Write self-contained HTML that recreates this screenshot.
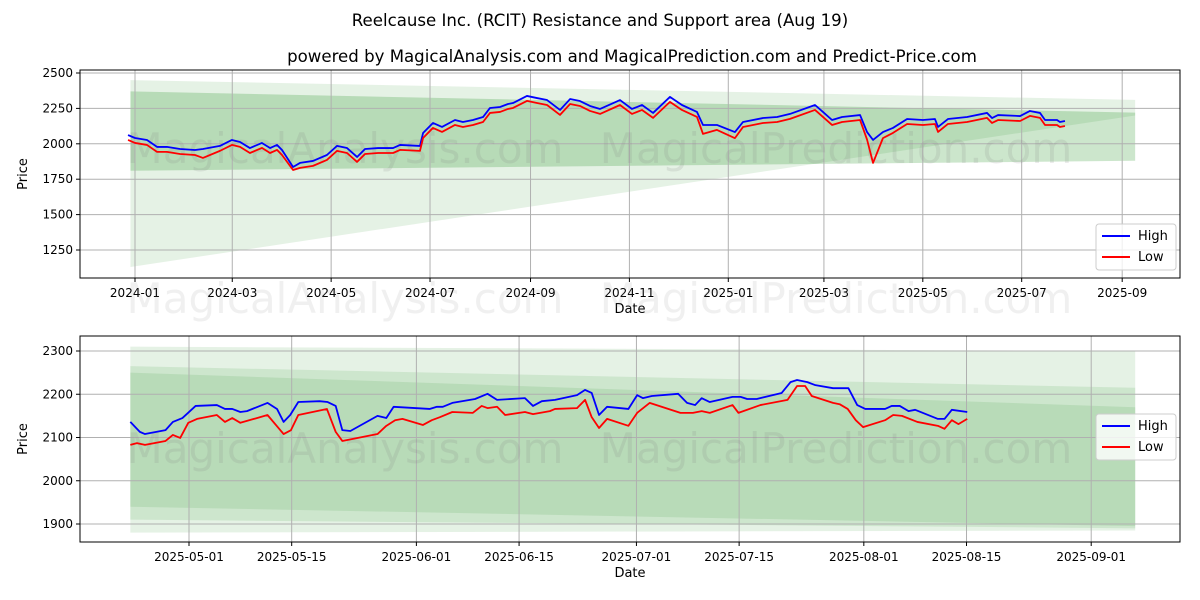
<!DOCTYPE html>
<html><head><meta charset="utf-8">
<style>
body{margin:0;background:#fff;font-family:"Liberation Sans","DejaVu Sans",sans-serif;}
svg{display:block}
text{font-family:"DejaVu Sans","Liberation Sans",sans-serif;}
</style></head>
<body>
<svg id="chart" width="1200" height="600" xmlns="http://www.w3.org/2000/svg">
<rect width="1200" height="600" fill="#fff"/>
<text x="600" y="26" font-size="16.6" text-anchor="middle">Reelcause Inc. (RCIT) Resistance and Support area (Aug 19)</text>
<text x="632" y="62" font-size="16.6" text-anchor="middle">powered by MagicalAnalysis.com and MagicalPrediction.com and Predict-Price.com</text>
<g id="top"></g>
<g id="bot"></g>
<g fill="#808080" fill-opacity="0.12" font-size="42" text-anchor="middle">
<text x="345" y="313">MagicalAnalysis.com</text>
<text x="836" y="313">MagicalPrediction.com</text>
</g>
</svg>
<script>
// ---- Top chart data (days since 2024-01-01) ----
const topDays=[-4.3,0,7.4,13.6,19.7,27.8,37,41.9,52.4,59.8,64.8,70.9,78.3,83.3,87.6,90.7,97.5,101.8,109.8,118.4,124.6,130.8,137,141.9,149.9,159.2,163.5,175.8,177.7,183.8,189.4,197.4,202.3,208.5,214.7,219,225.2,230.1,233.2,241.8,248,254.2,262.2,268.4,274.5,280.7,286.9,299.2,306.6,312.8,319.6,330,337.4,346.7,350.4,359,370.1,375.1,387.4,396.1,404.1,419.5,424.4,430,436.2,447.3,451.6,455.3,461.4,467.6,476.3,486.1,493.5,495.4,501.5,513.3,525.6,528.7,532.4,546,552.1,558.3,561.4,568.8,570.6,573.7];
const topHigh=[2062,2041,2027,1978,1978,1963,1956,1963,1985,2027,2013,1970,2006,1970,1992,1956,1836,1865,1879,1921,1985,1970,1907,1963,1970,1970,1992,1985,2076,2147,2119,2168,2154,2168,2189,2253,2260,2281,2288,2338,2323,2309,2239,2316,2302,2267,2246,2309,2246,2274,2218,2331,2274,2225,2133,2133,2083,2154,2182,2189,2211,2274,2225,2168,2189,2203,2083,2027,2083,2112,2175,2168,2175,2119,2175,2189,2218,2182,2203,2196,2232,2218,2168,2168,2154,2161];
const topLow=[2027,2006,1992,1943,1943,1928,1921,1900,1950,1992,1978,1935,1971,1935,1957,1921,1815,1830,1844,1886,1950,1935,1872,1928,1935,1935,1957,1950,2041,2112,2084,2133,2119,2133,2154,2218,2225,2246,2253,2303,2288,2274,2204,2281,2267,2232,2211,2274,2211,2239,2183,2296,2239,2190,2070,2098,2040,2119,2147,2154,2176,2239,2190,2133,2154,2168,2030,1865,2040,2077,2140,2133,2140,2084,2140,2154,2183,2147,2168,2161,2197,2183,2133,2133,2119,2126];
const topYTicks=[1250,1500,1750,2000,2250,2500];
const topXTickLabels=["2024-01","2024-03","2024-05","2024-07","2024-09","2024-11","2025-01","2025-03","2025-05","2025-07","2025-09"];
const topXTickDays=[0,60,121,182,244,305,366,425,486,547,609];
const topBandStart=-2.8, topBandEnd=617;
const topBandA=[2450,2310,1130,2200];
const topBandB=[2370,2220,1810,1880];

// ---- Bottom chart data (days since 2025-05-01) ----
const botHighDays=[-8.0,-6.7,-6.0,-3.2,-2.2,-0.9,0.9,3.8,4.9,5.9,7.0,7.9,10.7,12.0,12.9,13.8,14.9,17.8,18.9,20.0,20.9,22.0,25.7,26.9,27.9,32.8,33.8,34.6,35.9,39.0,40.7,42.0,45.8,46.9,48.1,49.9,52.9,54.0,54.9,55.9,57.0,59.9,61.1,61.9,63.1,66.7,67.9,69.0,69.9,71.0,74.1,75.2,76.1,77.4,80.8,82.0,82.9,84.3,85.4,87.8,89.9,91.1,92.2,94.9,95.8,96.9,98.1,99.0,102.1,103.0,104.0,106.1];
const botHigh=[2136,2113,2108,2117,2136,2145,2173,2175,2166,2166,2159,2161,2180,2166,2136,2152,2182,2184,2182,2173,2117,2115,2150,2145,2171,2166,2171,2171,2180,2189,2201,2187,2191,2173,2184,2187,2198,2210,2203,2152,2171,2166,2198,2191,2196,2201,2180,2175,2191,2182,2194,2194,2189,2189,2203,2228,2233,2228,2221,2214,2214,2175,2166,2166,2173,2173,2161,2164,2143,2143,2164,2159];
const botLowDays=[-8.0,-7.1,-6.0,-3.2,-2.2,-1.2,-0.1,1.1,3.8,4.9,5.9,7.0,10.7,12.9,13.9,14.9,18.8,20.0,20.9,25.7,26.9,28.1,29.1,31.9,33.1,34.2,35.9,38.7,39.9,40.7,42.0,43.1,45.8,46.9,49.2,49.9,52.9,54.0,54.9,55.9,57.0,59.9,61.1,62.8,67.0,68.7,69.9,71.0,74.1,74.9,77.9,81.6,82.9,84.0,84.9,87.8,88.7,89.8,90.9,91.9,94.9,96.0,97.2,99.3,102.1,103.0,104.0,104.9,106.1];
const botLow=[2083,2087,2083,2092,2106,2099,2134,2143,2152,2136,2145,2134,2152,2108,2117,2152,2166,2113,2092,2108,2127,2140,2143,2129,2140,2147,2159,2157,2173,2168,2171,2152,2159,2154,2161,2166,2168,2187,2147,2122,2143,2127,2157,2180,2157,2157,2161,2157,2175,2157,2175,2187,2219,2219,2196,2180,2177,2166,2140,2124,2140,2152,2150,2136,2127,2120,2140,2131,2143];
const botYTicks=[1900,2000,2100,2200,2300];
const botXTickLabels=["2025-05-01","2025-05-15","2025-06-01","2025-06-15","2025-07-01","2025-07-15","2025-08-01","2025-08-15","2025-09-01"];
const botXTickDays=[0,14,31,45,61,75,92,106,123];
const botBandStart=-8.0, botBandEnd=129.0;
const botBandA=[2310,2300,1880,1885];
const botBandB=[2265,2215,1910,1890];
const botBandC=[2250,2170,1940,1895];

const NS="http://www.w3.org/2000/svg";
function mk(parent,tag,attrs){const e=document.createElementNS(NS,tag);for(const k in attrs)e.setAttribute(k,attrs[k]);parent.appendChild(e);return e;}

function panel(g,cfg){
  const {x0,x1,y0,y1,xs,ys}=cfg;
  const wm=[["MagicalAnalysis.com",345],["MagicalPrediction.com",836]];
  cfg.bands.forEach((b,i)=>{
    const p=[[xs(cfg.bs),ys(b[0])],[xs(cfg.be),ys(b[1])],[xs(cfg.be),ys(b[3])],[xs(cfg.bs),ys(b[2])]];
    const poly=mk(g,'polygon',{points:p.map(q=>q.join(',')).join(' '),fill:'green','fill-opacity':b[4]});
    
    
  });
  cfg.xt.forEach((d,i)=>{
    const x=xs(d);
    const l=mk(g,'line',{x1:x,x2:x,y1:y0,y2:y1,stroke:'#b0b0b0','stroke-width':1});
    
    
    mk(g,'line',{x1:x,x2:x,y1:y1,y2:y1+4,stroke:'#000'});
    const t=mk(g,'text',{x:x,y:y1+19,'font-size':12,'text-anchor':'middle'});t.textContent=cfg.xl[i];
    
    
  });
  cfg.yt.forEach(v=>{
    const y=ys(v);
    const l=mk(g,'line',{x1:x0,x2:x1,y1:y,y2:y,stroke:'#b0b0b0','stroke-width':1});
    
    
    mk(g,'line',{x1:x0-4,x2:x0,y1:y,y2:y,stroke:'#000'});
    const t=mk(g,'text',{x:x0-7,y:y+4,'font-size':12,'text-anchor':'end'});t.textContent=v;
    
    
  });
  wm.forEach(w=>{
    const t=mk(g,'text',{x:w[1],y:cfg.wy,'font-size':42,'text-anchor':'middle',fill:'#808080','fill-opacity':0.16});t.textContent=w[0];
    
    
  });
  const hp=mk(g,'polyline',{points:cfg.hd.map((d,i)=>xs(d)+','+ys(cfg.hv[i])).join(' '),fill:'none',stroke:'#0000ff','stroke-width':1.8,'stroke-linejoin':'round'});
  
  
  const lp=mk(g,'polyline',{points:cfg.ld.map((d,i)=>xs(d)+','+ys(cfg.lv[i])).join(' '),fill:'none',stroke:'#ff0000','stroke-width':1.8,'stroke-linejoin':'round'});
  
  
  const fr=mk(g,'rect',{x:x0,y:y0,width:x1-x0,height:y1-y0,fill:'none',stroke:'#000','stroke-width':1});
  
  
  const xt=mk(g,'text',{x:(x0+x1)/2,y:y1+35,'font-size':13,'text-anchor':'middle'});xt.textContent='Date';
  
  
  const yc=(y0+y1)/2;
  const yt=mk(g,'text',{x:27,y:yc,'font-size':13,'text-anchor':'middle',transform:`rotate(-90 27 ${yc})`});yt.textContent='Price';
  
  
  const lx=1096,ly=cfg.ly;
  const lg=mk(g,'g',{});
  
  
  mk(lg,'rect',{x:lx,y:ly,width:80,height:46,rx:3,fill:'#fff','fill-opacity':0.8,stroke:'#ccc'});
  [['High','#0000ff'],['Low','#ff0000']].forEach((e,i)=>{
    const yy=ly+12+i*21;
    const ln=mk(lg,'line',{x1:lx+6,x2:lx+34,y1:yy,y2:yy,stroke:e[1],'stroke-width':2});
    
    
    const t=mk(lg,'text',{x:lx+42,y:yy+4,'font-size':13});t.textContent=e[0];
    
    
  });
}

panel(document.getElementById('top'),{
  x0:80,x1:1180,y0:70,y1:278,
  xs:d=>135+d*1.621, ys:v=>73+(2500-v)*0.1416,
  bands:[topBandA.concat([0.1]),topBandB.concat([0.2])], bs:topBandStart, be:topBandEnd,
  xt:topXTickDays, xl:topXTickLabels, yt:topYTicks,
  hd:topDays,hv:topHigh,ld:topDays,lv:topLow, ly:224, wy:163
});
panel(document.getElementById('bot'),{
  x0:80,x1:1180,y0:336,y1:542,
  xs:d=>189+d*7.335, ys:v=>351+(2300-v)*0.4325,
  bands:[botBandA.concat([0.1]),botBandB.concat([0.1]),botBandC.concat([0.1])], bs:botBandStart, be:botBandEnd,
  xt:botXTickDays, xl:botXTickLabels, yt:botYTicks,
  hd:botHighDays,hv:botHigh,ld:botLowDays,lv:botLow, ly:414, wy:463
});
</script>
</body></html>
